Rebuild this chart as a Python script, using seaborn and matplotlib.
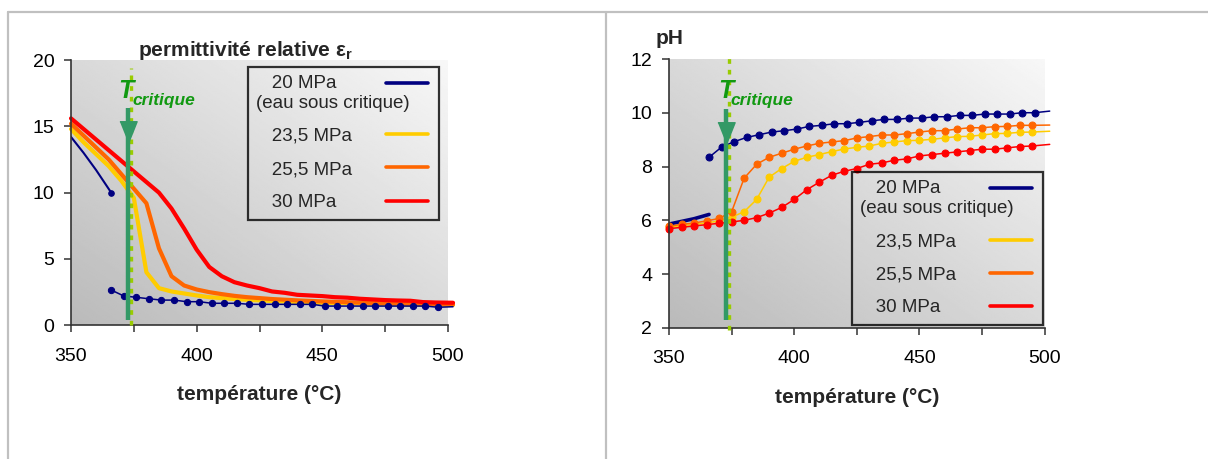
import numpy as np
import matplotlib
matplotlib.use("Agg")
import matplotlib.pyplot as plt
from matplotlib.lines import Line2D
from matplotlib.ticker import MultipleLocator
import seaborn as sns

# temperatures (°C)
t_grid = [350, 355, 360, 365, 370, 375, 380, 385, 390, 395, 400, 405, 410, 415, 420,
          425, 430, 435, 440, 445, 450, 455, 460, 465, 470, 475, 480, 485, 490, 495, 502]
t_sub = [350, 355, 360, 366]
t_super = [366, 371, 376, 381, 386, 391, 396, 401, 406, 411, 416, 421, 426, 431, 436,
           441, 446, 451, 456, 461, 466, 471, 476, 481, 486, 491, 496, 502]

# relative permittivity
eps_20_sub = [14.2, 13.0, 11.7, 10.0]
eps_20_super = [2.66, 2.21, 2.11, 2.0, 1.9, 1.9, 1.78, 1.78, 1.66, 1.66, 1.66, 1.58, 1.58, 1.58,
                1.58, 1.58, 1.58, 1.45, 1.45, 1.45, 1.45, 1.45, 1.45, 1.45, 1.45, 1.45, 1.36, 1.4]
eps_235 = [14.8, 13.8, 12.9, 12.0, 10.9, 9.6, 4.0, 2.8, 2.55, 2.4, 2.25, 2.12, 2.05, 1.98, 1.92,
           1.88, 1.83, 1.8, 1.76, 1.73, 1.7, 1.68, 1.66, 1.64, 1.62, 1.6, 1.58, 1.57, 1.56, 1.55, 1.53]
eps_255 = [15.2, 14.3, 13.4, 12.5, 11.4, 10.3, 9.2, 5.8, 3.7, 3.0, 2.7, 2.5, 2.35, 2.22, 2.12,
           2.05, 1.98, 1.93, 1.88, 1.84, 1.8, 1.77, 1.74, 1.71, 1.69, 1.67, 1.65, 1.63, 1.61, 1.59, 1.58]
eps_30 = [15.6, 14.8, 14.0, 13.2, 12.4, 11.6, 10.8, 10.0, 8.8, 7.3, 5.7, 4.4, 3.7, 3.25, 3.0,
          2.8, 2.55, 2.45, 2.3, 2.25, 2.2, 2.12, 2.08, 2.0, 1.95, 1.9, 1.87, 1.85, 1.75, 1.72, 1.7]

# pH
ph_20_sub = [5.86, 5.96, 6.06, 6.22]
ph_20_super = [8.35, 8.73, 8.93, 9.09, 9.19, 9.29, 9.34, 9.40, 9.50, 9.54, 9.60, 9.60, 9.65, 9.71,
               9.76, 9.76, 9.81, 9.81, 9.86, 9.86, 9.91, 9.91, 9.96, 9.96, 9.96, 10.01, 10.01, 10.07]
ph_235 = [5.75, 5.8, 5.85, 5.9, 5.98, 6.12, 6.32, 6.78, 7.61, 7.93, 8.2, 8.35, 8.45, 8.56, 8.66,
          8.72, 8.77, 8.87, 8.92, 8.97, 8.98, 9.02, 9.07, 9.12, 9.13, 9.18, 9.23, 9.24, 9.28, 9.29, 9.32]
ph_255 = [5.78, 5.85, 5.9, 5.98, 6.07, 6.32, 7.57, 8.09, 8.35, 8.5, 8.65, 8.77, 8.87, 8.92, 8.97,
          9.07, 9.12, 9.18, 9.18, 9.23, 9.29, 9.34, 9.34, 9.40, 9.45, 9.45, 9.49, 9.5, 9.54, 9.54, 9.55]
ph_30 = [5.69, 5.74, 5.79, 5.84, 5.89, 5.94, 6.0, 6.1, 6.27, 6.48, 6.78, 7.14, 7.42, 7.68, 7.83,
         7.93, 8.09, 8.14, 8.24, 8.29, 8.40, 8.45, 8.50, 8.55, 8.60, 8.65, 8.65, 8.70, 8.75, 8.77, 8.83]

labels = ["   20 MPa\n(eau sous critique)", "   23,5 MPa", "   25,5 MPa", "   30 MPa"]
colors = ["#000080", "#ffcc00", "#ff6600", "#ff0000"]

T_CRIT = 374.0      # dashed line
T_ARROW = 372.8     # arrow
GREEN = "#339966"
LIME = "#99cc00"
TXT_GREEN = "#119911"

sns.set_theme(style="ticks")
plt.rcParams["font.family"] = ["Liberation Sans", "DejaVu Sans"]
plt.rcParams["mathtext.default"] = "regular"

W, H = 1208, 459
fig = plt.figure(figsize=(W / 100, H / 100), dpi=100)
fig.patch.set_facecolor("white")


def axes_px(x0, x1, y0, y1):
    return fig.add_axes([x0 / W, 1 - y1 / H, (x1 - x0) / W, (y1 - y0) / H])


def setup(ax, ymin, ymax, ystep):
    u = np.linspace(0, 1, 200)
    grad = 0.73 + 0.12 * u[None, :] + 0.12 * u[:, None]
    ax.imshow(grad, extent=(350, 500, ymin, ymax), origin="lower", aspect="auto",
              cmap="gray", vmin=0, vmax=1, zorder=0, interpolation="bilinear")
    ax.set_facecolor("none")
    ax.set_xlim(350, 500)
    ax.set_ylim(ymin, ymax)
    ax.xaxis.set_major_locator(MultipleLocator(50))
    ax.xaxis.set_minor_locator(MultipleLocator(25))
    ax.yaxis.set_major_locator(MultipleLocator(ystep))
    for s in ["top", "right"]:
        ax.spines[s].set_visible(False)
    for s in ["left", "bottom"]:
        ax.spines[s].set_color("#333333")
        ax.spines[s].set_linewidth(1.2)
    ax.tick_params(which="both", direction="out", length=5, width=1.1, color="#333333",
                   labelsize=14, labelcolor="black")
    ax.tick_params(axis="x", pad=11)
    ax.tick_params(axis="y", pad=7)
    ax.set_xlabel("température (°C)", fontsize=15, fontweight="bold")
    ax.xaxis.label.set_va("baseline")
    ax.set_ylabel("")


def critical(ax, dash_lo, dash_hi, arrow_lo, arrow_hi, head_y, t_xy, c_xy):
    ax.plot([T_CRIT, T_CRIT], [dash_lo, dash_hi], color=LIME, lw=2.4, dashes=(1.4, 1.8),
            zorder=6, clip_on=False)
    ax.plot([T_ARROW, T_ARROW], [arrow_lo, arrow_hi], color=GREEN, lw=3.2, zorder=7,
            solid_capstyle="butt")
    ax.plot([T_ARROW], [head_y], marker=[(-0.8, 1), (0.8, 1), (0, -1)], ms=15.5,
            color=GREEN, mec=GREEN, zorder=7)
    ax.text(t_xy[0], t_xy[1], "T", color=TXT_GREEN, fontsize=18, fontstyle="italic",
            fontweight="bold", va="baseline", zorder=8)
    ax.text(c_xy[0], c_xy[1], "critique", color=TXT_GREEN, fontsize=12.5, fontstyle="italic",
            fontweight="bold", va="baseline", zorder=8)


def add_legend(ax, anchor):
    handles = [Line2D([], [], color=c, lw=2.6) for c in colors]
    leg = ax.legend(handles, labels, loc="upper right", bbox_to_anchor=anchor,
                    markerfirst=False, frameon=True, fancybox=False,
                    edgecolor="black", fontsize=13.5, handlelength=2.35,
                    handletextpad=1.0, labelspacing=0.85, borderpad=0.45,
                    borderaxespad=0)
    leg.get_frame().set_facecolor("none")
    leg.get_frame().set_linewidth(1.6)
    leg.set_zorder(9)
    for t in leg.get_texts():
        t.set_multialignment("left")
    return leg


def tidy_legend(leg, text_to_handle_px=130, lift_pt=7.5, trim_pt=1.5):
    # text column left aligned, handles right aligned, first handle level with "20 MPa"
    fig.canvas.draw()
    r = fig.canvas.get_renderer()
    rows = [row for col in leg._legend_handle_box.get_children() for row in col.get_children()]
    for row in rows:
        w = row.get_children()[0].get_bbox(r).width
        row.sep = (text_to_handle_px - w) * 72 / fig.dpi
    for i, line in enumerate(leg.legend_handles):
        x = line.get_xdata()
        y = line.get_ydata()
        dy = lift_pt if i == 0 else 0
        line.set_data([x[0], x[-1] - trim_pt], [y[0] + dy, y[0] + dy])


# ---- left: relative permittivity ----
ax1 = axes_px(71, 448, 60, 325.3)
setup(ax1, 0, 20, 5)
for vals, col in zip([eps_235, eps_255, eps_30], colors[1:]):
    sns.lineplot(x=t_grid, y=vals, ax=ax1, color=col, linewidth=3, clip_on=False,
                 solid_joinstyle="round")
sns.lineplot(x=t_sub, y=eps_20_sub, ax=ax1, color=colors[0], linewidth=1.5, marker="o",
             markevery=[3], markersize=4, markeredgecolor=colors[0])
sns.lineplot(x=t_super, y=eps_20_super, ax=ax1, color=colors[0], linewidth=1.1, marker="o",
             markevery=list(range(27)), markersize=4.5, markeredgecolor=colors[0],
             clip_on=False)
critical(ax1, 0, 19.4, 0.4, 16.4, 14.55, (368.7, 17.1), (374.3, 16.6))
leg1 = add_legend(ax1, (0.976, 0.974))
ax1.xaxis.set_label_coords(0.5, -0.282)
ax1.text(0.179, 1.015, "permittivité relative ε$_{r}$", transform=ax1.transAxes,
         fontsize=15, fontweight="bold", va="baseline")

# ---- right: pH ----
ax2 = axes_px(669, 1044.7, 59.3, 327.7)
setup(ax2, 2, 12, 2)
sns.lineplot(x=t_sub, y=ph_20_sub, ax=ax2, color=colors[0], linewidth=2.6)
for vals, col in zip([ph_235, ph_255, ph_30], colors[1:]):
    sns.lineplot(x=t_grid, y=vals, ax=ax2, color=col, linewidth=1.1, marker="o",
                 markevery=list(range(30)), markersize=5, markeredgecolor=col,
                 clip_on=False)
sns.lineplot(x=t_super, y=ph_20_super, ax=ax2, color=colors[0], linewidth=1.1, marker="o",
             markevery=list(range(27)), markersize=5, markeredgecolor=colors[0],
             clip_on=False)
critical(ax2, 1.9, 12.1, 2.29, 10.15, 9.27, (369.6, 10.56), (374.4, 10.3))
leg2 = add_legend(ax2, (0.995, 0.58))
ax2.xaxis.set_label_coords(0.5, -0.28)
ax2.text(-0.035, 1.057, "pH", transform=ax2.transAxes, fontsize=15, fontweight="bold",
         va="baseline")

# gray frame around the two panels
frame = dict(color="#c0c0c0", lw=1.6, transform=fig.transFigure)
fig.add_artist(Line2D([8 / W, 1], [1 - 12 / H, 1 - 12 / H], **frame))
fig.add_artist(Line2D([8 / W, 8 / W], [0, 1 - 12 / H], **frame))
fig.add_artist(Line2D([606 / W, 606 / W], [0, 1 - 12 / H], **frame))

tidy_legend(leg1)
tidy_legend(leg2)

fig.savefig("out.png", dpi=100)
